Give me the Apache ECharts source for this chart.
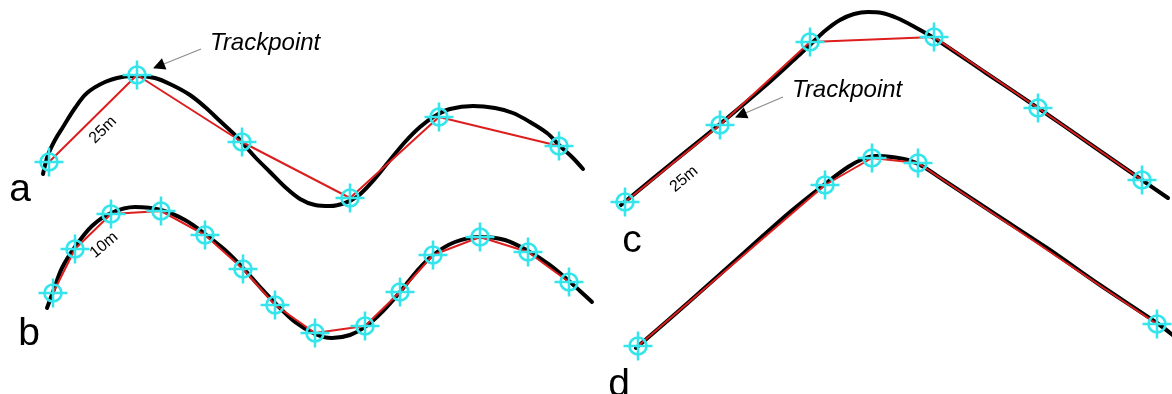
<!DOCTYPE html>
<html><head><meta charset="utf-8">
<script src="https://cdn.jsdelivr.net/npm/echarts@6/dist/echarts.min.js"></script>
<style>html,body{margin:0;padding:0;background:#fff}#c{width:1172px;height:394px}</style>
</head><body><div id="c"></div>
<script>
// ---- data (pixel-space coordinates of the sketch) ----
const curveA = [[43,174],[48,155],[55,140],[63,127],[75,108],[87,93],[105,82],[122,77],[137,76],[155,78],[172,85],[190,95],[205,107],[220,121],[237,137],[255,157],[270,172],[285,187],[300,199],[315,205],[330,206],[345,203],[358,196],[372,182],[390,160],[405,142],[420,127],[435,116],[450,109],[473,106],[495,108],[513,113],[530,122],[547,133],[560,146],[572,157],[583,169]];
const trackA = [[49,162],[137,75],[242,142],[350,198],[439,117],[559,146]];

const curveB = [[47,308],[53,292],[62,268],[75,247],[92,226],[111,213],[135,207],[161,210],[185,220],[205,234],[225,250],[243,268],[260,287],[275,303],[295,322],[315,334],[332,338],[350,335],[365,327],[383,311],[400,292],[417,271],[433,255],[455,242],[480,237],[505,240],[528,251],[550,265],[569,281],[580,291],[592,302]];
const trackB = [[53,293],[75,249],[111,214],[161,211],[205,235],[243,269],[275,305],[315,333],[365,326],[400,292],[433,255],[480,237],[528,252],[569,282]];

const curveC = [[621,205],[672,163],[720,124],[765,86],[798,56],[812,43],[826,30],[840,20],[854,14],[868,12],[882,13],[897,18],[913,26],[934,38],[986,73],[1038,108],[1090,144],[1142,180],[1168,198]];
const trackC = [[625,202],[720,125],[810,42],[934,37],[1038,108],[1142,180]];

const curveD = [[636,348],[690,301],[745,252],[790,212],[825,184],[848,167],[863,159],[876,156],[892,157],[908,160],[922,166],[945,181],[995,214],[1047,248],[1100,285],[1157,323],[1175,337]];
const trackD = [[638,346],[825,185],[872,158],[918,163],[1157,324]];

const panelLetters = ['a','b','c','d'];
const panelLetterAt = [[20,190],[29,334],[632,241],[619,385]];

const noteTexts = ['Trackpoint','Trackpoint'];
const noteAt = [[210,43],[792,90]];
const arrowTails = [[201,49],[783,97]];
const arrowTips = [[154,68],[736,117]];

const distTexts = ['25m','10m','25m'];
const distAt = [[103,130],[104,245],[684,179]];
const distAngle = [45,40,40];

// ---- chart ----
const FONT = '"Liberation Sans", Arial, Helvetica, sans-serif';
const CYAN = '#35e5eb', RED = '#dc1e1e', INK = '#000';
const chart = echarts.init(document.getElementById('c'), null, {renderer:'canvas'});

function curve(data){
  return {type:'line', data, smooth:0.35, symbol:'none', showSymbol:false, silent:true,
    lineStyle:{color:'#000', width:4, cap:'round', join:'round'}, z:2};
}
function track(data){
  return {type:'line', data, smooth:false, symbol:'none', showSymbol:false, silent:true,
    lineStyle:{color:RED, width:2, join:'round'}, z:3};
}
function marks(data){
  return [
    {type:'scatter', data, symbol:'circle', symbolSize:17, silent:true,
      itemStyle:{color:'rgba(0,0,0,0)', borderColor:CYAN, borderWidth:2.6, opacity:1}, z:4},
    {type:'scatter', data, symbol:'path://M13.7,0h2.6v30h-2.6zM0,13.7h30v2.6h-30z', symbolSize:29, silent:true,
      itemStyle:{color:CYAN, opacity:1}, z:4}
  ];
}
// arrowhead placement: pull the drawn head back a bit along the arrow
const heads = arrowTips.map((tip,i)=>{
  const t = arrowTails[i];
  const dx = t[0]-tip[0], dy = t[1]-tip[1];
  const L = Math.hypot(dx,dy);
  const ux = dx/L, uy = dy/L;
  const end = [tip[0]+ux*5, tip[1]+uy*5];
  const start = [tip[0]+ux*7, tip[1]+uy*7];
  return {coords:[start,end]};
});

function textSeries(texts, at, label, extra){
  return {type:'scatter', silent:true, z:7, symbolSize:0, itemStyle:{opacity:1},
    data: texts.map((t,i)=>({value:at[i], label:Object.assign({formatter:t}, extra ? extra(i) : {})})),
    label:Object.assign({show:true, color:INK, fontFamily:FONT, opacity:1}, label)};
}

const series = [
  curve(curveA), track(trackA), ...marks(trackA),
  curve(curveB), track(trackB), ...marks(trackB),
  curve(curveC), track(trackC), ...marks(trackC),
  curve(curveD), track(trackD), ...marks(trackD),
  {type:'lines', coordinateSystem:'cartesian2d', silent:true, z:5,
    data: arrowTails.map((t,i)=>({coords:[t, arrowTips[i]]})),
    symbol:'none', lineStyle:{color:'#8c8c8c', width:1.2, opacity:1}},
  {type:'lines', coordinateSystem:'cartesian2d', silent:true, z:6,
    data: heads, symbol:['none','triangle'], symbolSize:12,
    lineStyle:{color:INK, width:1, opacity:1}},
  textSeries(panelLetters, panelLetterAt, {position:'inside', fontSize:39}),
  textSeries(noteTexts, noteAt, {position:'right', distance:0, fontSize:24, fontStyle:'italic'}),
  textSeries(distTexts, distAt, {position:'inside', fontSize:16}, i=>({rotate:distAngle[i]}))
];

chart.setOption({
  animation:false,
  backgroundColor:'#fff',
  grid:{left:0,right:0,top:0,bottom:0},
  xAxis:{type:'value', min:0, max:1172, show:false},
  yAxis:{type:'value', min:0, max:394, inverse:true, show:false},
  series
});
</script>
</body></html>
